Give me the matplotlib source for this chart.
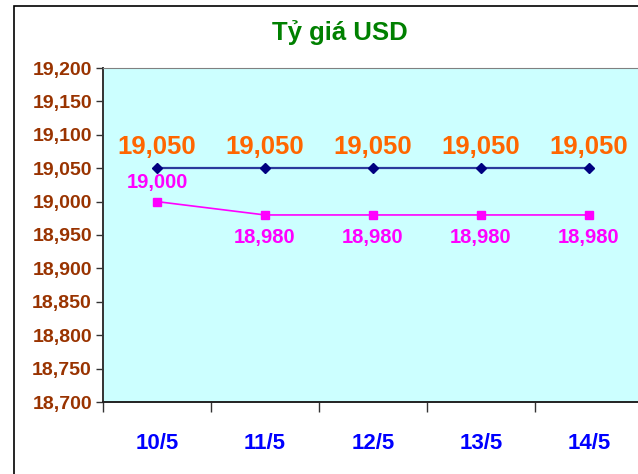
import matplotlib
matplotlib.use("Agg")
import matplotlib.pyplot as plt
from matplotlib.patches import Rectangle
from matplotlib.ticker import FixedLocator, NullFormatter, FuncFormatter

categories = ["10/5", "11/5", "12/5", "13/5", "14/5"]
sell = [19050, 19050, 19050, 19050, 19050]
buy = [19000, 18980, 18980, 18980, 18980]
yticks = [18700, 18750, 18800, 18850, 18900, 18950, 19000, 19050, 19100, 19150, 19200]

plt.rcParams['font.family'] = ['Liberation Sans', 'DejaVu Sans']

fig = plt.figure(figsize=(6.38, 4.74), dpi=100)
fig.patch.set_facecolor('white')

# outer chart border
fig.patches.append(Rectangle((14/638, -0.1), 1.2, 1.1 - 6/474 + 0.0,
                             transform=fig.transFigure, fill=False,
                             edgecolor='black', linewidth=1.2, zorder=0))

ax = fig.add_axes([103/638, 1 - 402/474, 540/638, (402 - 68)/474])
ax.set_facecolor('#CCFFFF')

x = list(range(len(categories)))
ax.plot(x, sell, color='#2B3A9C', linewidth=1.6, marker='D', markersize=5,
        markerfacecolor='#000080', markeredgecolor='#000080', zorder=3)
ax.plot(x, buy, color='#FF00FF', linewidth=1.2, marker='s', markersize=6,
        markerfacecolor='#FF00FF', markeredgecolor='#FF00FF', zorder=3)

for xi, v in zip(x, sell):
    ax.annotate(f"{v:,}", (xi, v), xytext=(0, 15), textcoords='offset points',
                ha='center', va='center', color='#FF6600', fontsize=18.5,
                fontweight='bold', clip_on=False)
for i, (xi, v) in enumerate(zip(x, buy)):
    dy = 13.5 if i == 0 else -16.5
    ax.annotate(f"{v:,}", (xi, v), xytext=(0, dy), textcoords='offset points',
                ha='center', va='center', color='#FF00FF', fontsize=14.5,
                fontweight='bold', clip_on=False)

ax.set_xlim(-0.5, len(categories) - 0.5)
ax.set_ylim(18700, 19200)
ax.set_yticks(yticks)
ax.yaxis.set_major_formatter(FuncFormatter(lambda v, p: f"{int(v):,}"))
ax.tick_params(axis='y', direction='out', length=5, width=1, color='#333333',
               labelcolor='#993300', labelsize=14, pad=3)
for lab in ax.get_yticklabels():
    lab.set_fontweight('bold')

ax.xaxis.set_major_locator(FixedLocator([i - 0.5 for i in range(len(categories) + 1)]))
ax.xaxis.set_major_formatter(NullFormatter())
ax.xaxis.set_minor_locator(FixedLocator(x))
ax.set_xticks(x, minor=True)
ax.set_xticklabels(categories, minor=True)
ax.tick_params(axis='x', which='major', direction='out', length=7, width=1, color='#333333')
ax.tick_params(axis='x', which='minor', length=0, labelcolor='#0000FF', labelsize=16, pad=22)
for lab in ax.get_xticklabels(minor=True):
    lab.set_fontweight('bold')

ax.spines['left'].set_color('#333333')
ax.spines['bottom'].set_color('#222222')
ax.spines['bottom'].set_linewidth(1.4)
ax.spines['left'].set_linewidth(1.4)
ax.spines['top'].set_color('#808080')
ax.spines['right'].set_visible(False)

fig.text(340/638, 1 - 33/474, "Tỷ giá USD", ha='center', va='center',
         color='#008000', fontsize=18.5, fontweight='bold')

fig.savefig("out.png", dpi=100)
